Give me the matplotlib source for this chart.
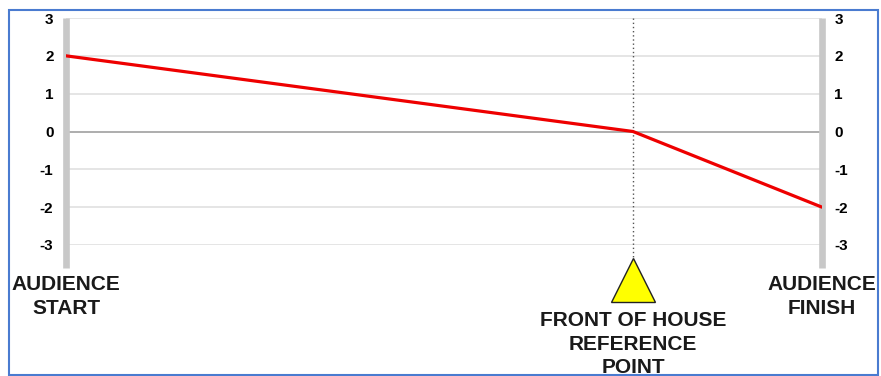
import matplotlib.pyplot as plt
from matplotlib.patches import Rectangle

# positions along the audience path (0 = start, 4 = finish) and offsets
positions = [0, 3, 4]
offsets = [2, 0, -2]
y_ticks = [-3, -2, -1, 0, 1, 2, 3]
ref_position = 3
start_label = "AUDIENCE\nSTART"
finish_label = "AUDIENCE\nFINISH"
ref_label = "FRONT OF HOUSE\nREFERENCE\nPOINT"

plt.rcParams['font.family'] = ['Liberation Sans', 'DejaVu Sans']

fig = plt.figure(figsize=(8.81, 3.76), dpi=100)
ax = fig.add_axes([66 / 881, 1 - 245 / 376, 756 / 881, 227 / 376])

# BLUE FRAME ROUND THE WHOLE PICTURE
fig.patches.append(Rectangle((9 / 881, 1 / 376), 869 / 881, 365 / 376,
                             transform=fig.transFigure, fill=False,
                             edgecolor='#4a7bd0', linewidth=1.5))

ax.set_xlim(positions[0], positions[-1])
ax.set_ylim(-3, 3)

for y in y_ticks:
    if y == 0:
        ax.axhline(y, color='#a0a0a0', linewidth=1.2, zorder=1)
    else:
        ax.axhline(y, color='#e0e0e0', linewidth=1.2, zorder=1)

# GRAY POSTS AT START AND FINISH
for x in (positions[0], positions[-1]):
    ax.plot([x, x], [3, -3.6], color='#c8c8c8', linewidth=4.8,
            solid_capstyle='butt', clip_on=False, zorder=2)

# DOTTED LINE AT THE REFERENCE POINT
ax.plot([ref_position, ref_position], [3, -3.4], color='#555555',
        linestyle=(0, (1, 2)), linewidth=1, clip_on=False, zorder=2)

ax.plot(positions, offsets, color='#ee0000', linewidth=2.3, zorder=3,
        solid_capstyle='round')

# YELLOW TRIANGLE
ax.plot([ref_position], [-3.92], marker='^', markersize=32,
        markerfacecolor='#ffff00', markeredgecolor='#222222',
        markeredgewidth=1, clip_on=False, zorder=4)

ax.set_yticks(y_ticks)
ax.set_yticklabels([str(t) for t in y_ticks])
ax.tick_params(axis='y', length=0, pad=9, labelsize=11,
               labelleft=True, labelright=True)
for lbl in ax.get_yticklabels():
    lbl.set_fontweight('bold')
ax.set_xticks([])
for s in ax.spines.values():
    s.set_visible(False)

text_style = dict(fontsize=15, fontweight='bold', ha='center', va='top',
                  linespacing=1.3, color='#1a1a1a')
ax.text(positions[0], -3.8, start_label, **text_style)
ax.text(positions[-1], -3.8, finish_label, **text_style)
ax.text(ref_position, -4.75, ref_label, clip_on=False, **text_style)

fig.savefig('out.png', dpi=100)
